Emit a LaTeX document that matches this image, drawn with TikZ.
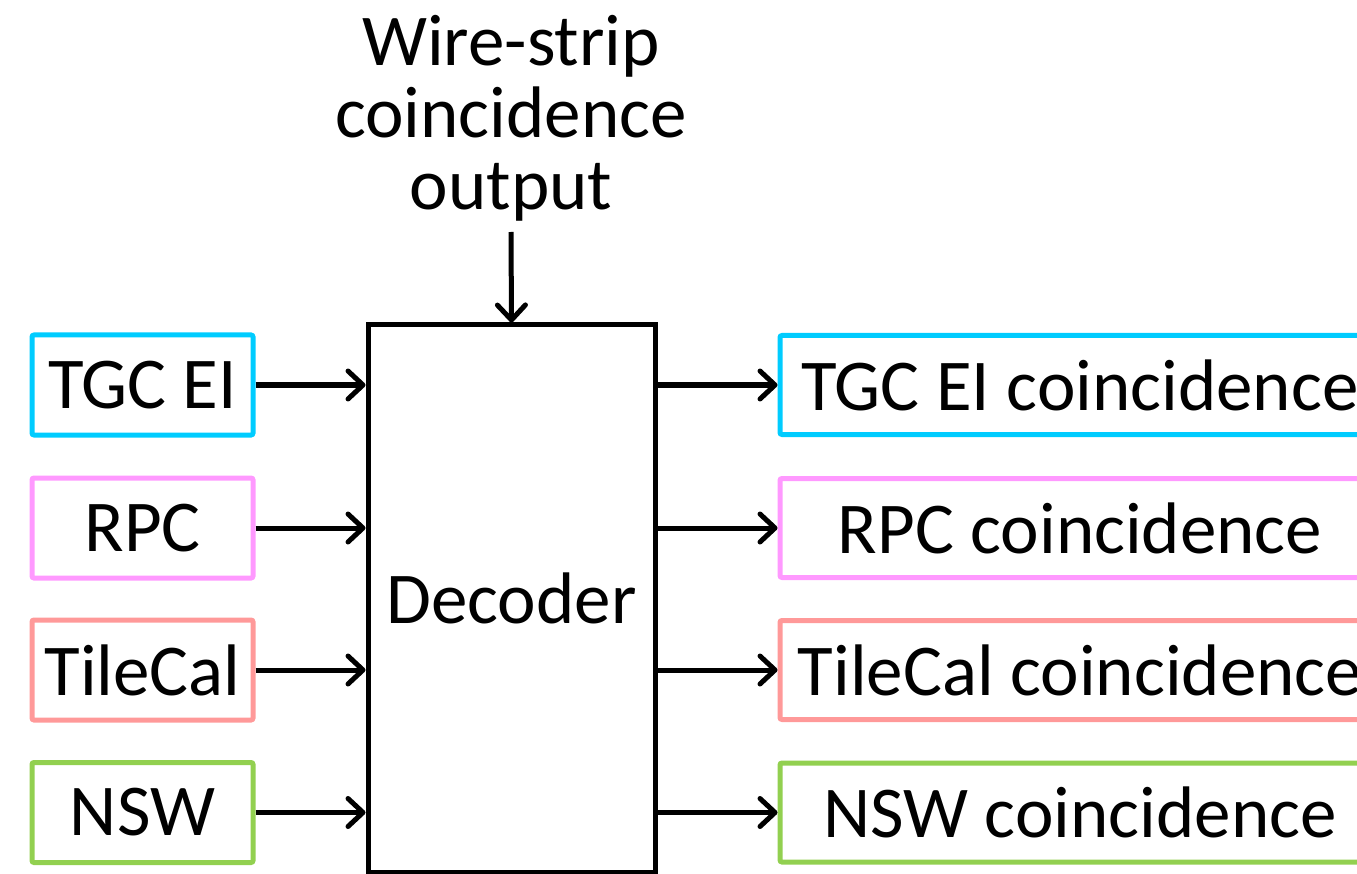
\documentclass[tikz,border=0pt]{standalone}
\usepackage{fontspec}
\setmainfont{Carlito}
\usetikzlibrary{arrows.meta}
\definecolor{tgccol}{HTML}{00CCFF}
\definecolor{rpccol}{HTML}{FF99FF}
\definecolor{tilecol}{HTML}{FF9999}
\definecolor{nswcol}{HTML}{92D050}
\tikzset{
  big/.style={font=\fontsize{73pt}{72pt}\selectfont},
  srcbox/.style={big, draw, line width=5pt, rounded corners=2pt, inner sep=0pt,
    minimum width=221pt, minimum height=100pt},
  outbox/.style={big, draw, line width=5pt, rounded corners=2pt, inner sep=0pt,
    minimum width=600pt, minimum height=99pt},
  decbox/.style={big, draw, line width=5pt, inner sep=0pt,
    minimum width=287pt, minimum height=547pt},
  arr/.style={line width=5pt, -{Straight Barb[length=15pt,width=28pt,line cap=round,line join=round]}}
}
\begin{document}
\begin{tikzpicture}[x=1pt,y=-1pt]
  \useasboundingbox (0,0) rectangle (1357,874);
  \clip (0,0) rectangle (1357,874);
  % central decoder block
  \node[decbox] (dec) at (511.5,598.5) {Decoder};
  % header text feeding the decoder from above
  \node[big, align=center, anchor=north, inner sep=0pt] (ws) at (511,15)
    {Wire-strip\\coincidence\\output};
  \coordinate (wsend) at (511,232);
  \draw[arr] (wsend) -- (dec.north);
  % input sources
  \node[srcbox, draw=tgccol]  (tgc)  at (142.5,385) {TGC EI};
  \node[srcbox, draw=rpccol]  (rpc)  at (142.5,528) {RPC};
  \node[srcbox, draw=tilecol] (tile) at (142.5,670) {TileCal};
  \node[srcbox, draw=nswcol]  (nsw)  at (142.5,812.5) {NSW};
  % coincidence outputs
  \node[outbox, draw=tgccol]  (otgc)  at (1080,385) {TGC EI coincidence};
  \node[outbox, draw=rpccol]  (orpc)  at (1080,528) {RPC coincidence};
  \node[outbox, draw=tilecol] (otile) at (1080,670) {TileCal coincidence};
  \node[outbox, draw=nswcol]  (onsw)  at (1080,812.5) {NSW coincidence};
  % connectors
  \foreach \s in {tgc,rpc,tile,nsw}
    \draw[arr] (\s.east) -- (\s.east -| dec.west);
  \foreach \o in {otgc,orpc,otile,onsw}
    \draw[arr] (\o.west -| dec.east) -- (\o.west);
\end{tikzpicture}
\end{document}
